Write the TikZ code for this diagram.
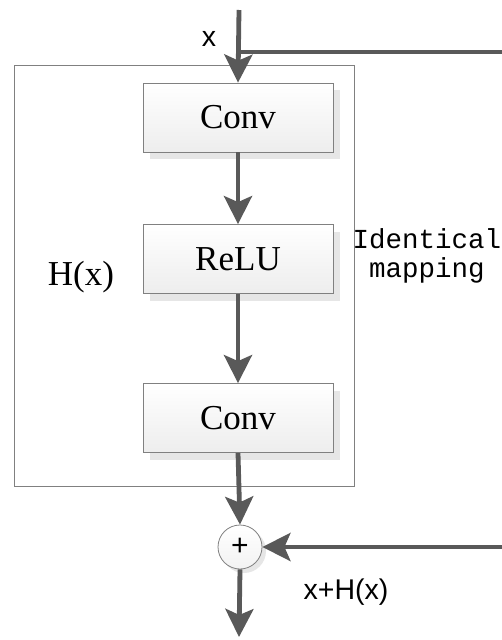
\documentclass[tikz,border=0pt]{standalone}
\usepackage{fontspec}
\setmainfont{Liberation Serif}
\setsansfont{Liberation Sans}
\setmonofont{Liberation Mono}
\usetikzlibrary{arrows.meta,shadows}
\definecolor{arrowgray}{HTML}{595959}
\definecolor{edgegray}{HTML}{808080}
\definecolor{shadowgray}{HTML}{E6E6E6}
\begin{document}
\begin{tikzpicture}[x=1pt,y=-1pt,
  flow/.style={line width=4.8pt, draw=arrowgray, -{Stealth[length=28pt,width=28pt,inset=6pt]}},
  plainflow/.style={line width=4.8pt, draw=arrowgray},
  blockbox/.style={draw=edgegray, line width=0.8pt, minimum width=190pt, minimum height=69pt,
    top color=white, bottom color=black!7, inner sep=0pt,
    font=\fontsize{35}{38}\selectfont,
    drop shadow={shadow xshift=7pt, shadow yshift=-7pt, fill=shadowgray, opacity=1}},
  sumnode/.style={circle, draw=edgegray, line width=0.8pt, minimum size=44pt, inner sep=0pt,
    top color=white, bottom color=black!5, font=\sffamily\fontsize{30}{32}\selectfont,
    drop shadow={shadow xshift=4pt, shadow yshift=-4pt, fill=shadowgray, opacity=1}},
  outerbox/.style={draw=edgegray, line width=0.9pt},
  sanslabel/.style={font=\sffamily\fontsize{28.5}{31}\selectfont, inner sep=0pt},
  seriflabel/.style={font=\fontsize{35}{38}\selectfont, inner sep=0pt},
  monolabel/.style={font=\ttfamily\fontsize{27.5}{29}\selectfont, align=center, inner sep=0pt}
]
\useasboundingbox (0,0) rectangle (502,640);
\fill[white] (0,0) rectangle (502,640);

% outer box H(x)
\node[outerbox, minimum width=340pt, minimum height=421pt, inner sep=0pt] (outer) at (184.5,275.5) {};

% blocks
\node[blockbox] (conv1) at (238,117.5) {Conv};
\node[blockbox] (relu) at (238,259) {ReLU};
\node[blockbox] (conv2) at (238,418) {Conv};
\node[sumnode] (sum) at (240,547) {+};

% coordinates
\coordinate (top) at (239,10);
\coordinate (branch) at (239,52);
\coordinate (rtop) at (502,52);
\coordinate (rbot) at (502,547);
\coordinate (out) at (239,637);

% connectors
\draw[flow] (top) -- (conv1.north);
\draw[plainflow] (branch) -- (rtop);
\draw[flow] (conv1.south) -- (relu.north);
\draw[flow] (relu.south) -- (conv2.north);
\draw[flow] (conv2.south) -- (sum.north);
\draw[flow] (rbot) -- (sum.east);
\draw[flow] (sum.south) -- (out);

% labels
\node[sanslabel] (xlabel) at (209,39) {x};
\node[seriflabel, anchor=base] (hlabel) at (81,285) {H(x)};
\node[sanslabel] (sumlabel) at (346,592) {x+H(x)};
\node[monolabel] (idlabel) at (427,256) {Identical\\mapping};
\end{tikzpicture}
\end{document}
